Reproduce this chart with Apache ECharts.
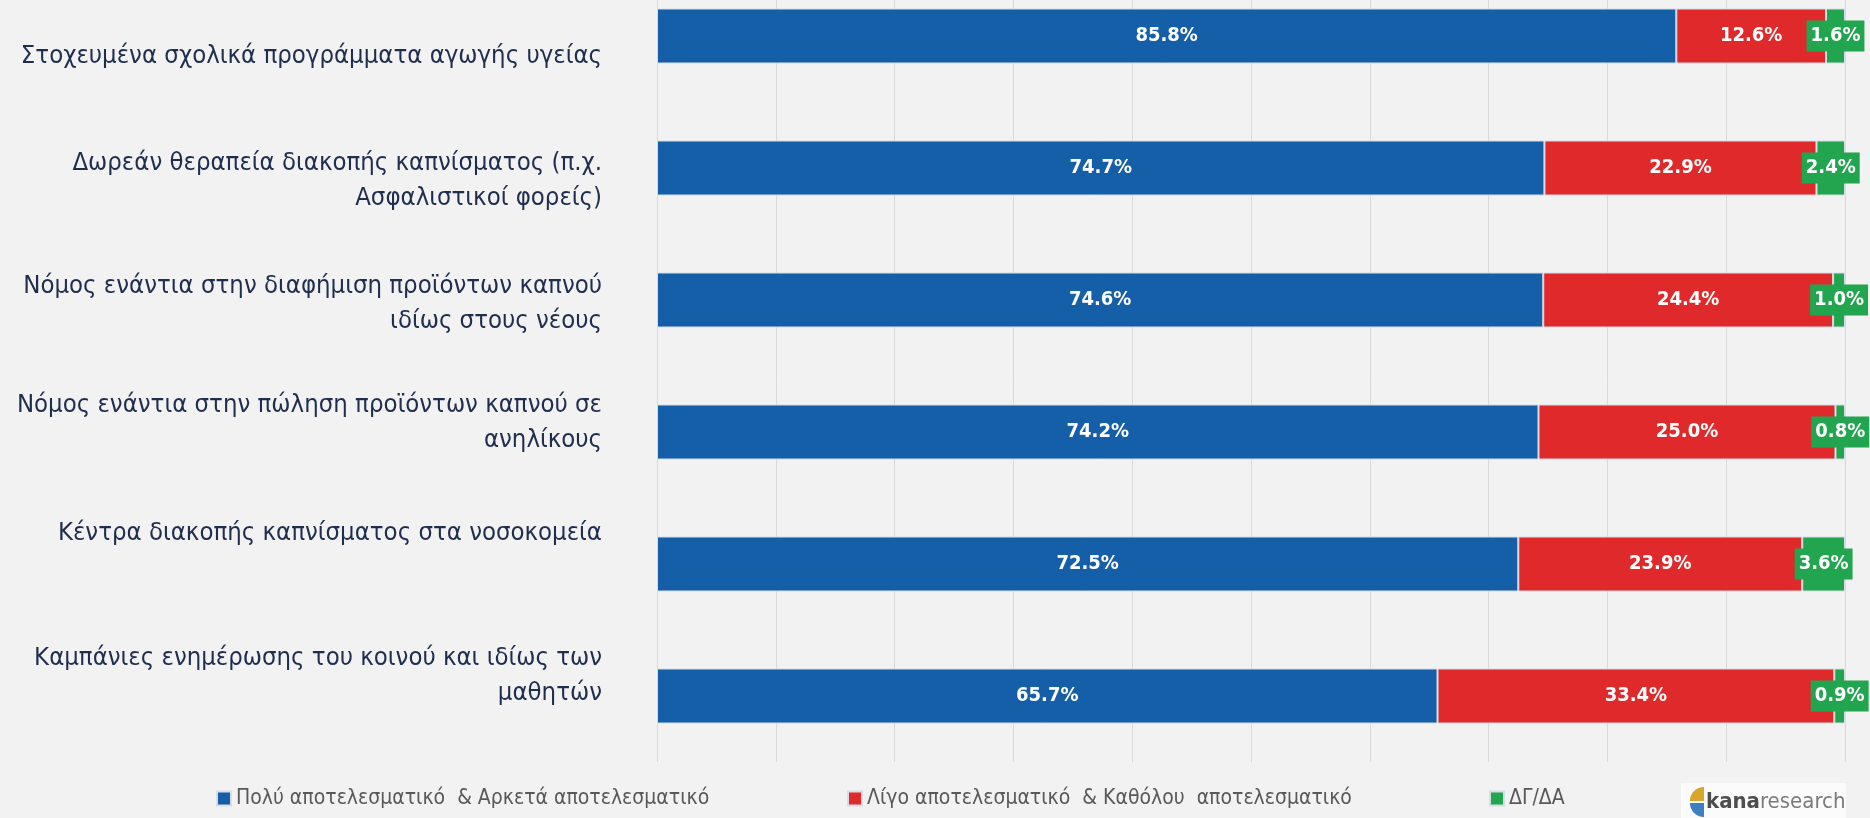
<!DOCTYPE html>
<html>
<head>
<meta charset="utf-8">
<script src="https://cdn.jsdelivr.net/npm/echarts@6/dist/echarts.min.js"></script>
<style>
  html, body { margin: 0; padding: 0; background: #f2f2f2; }
  #chart { width: 1870px; height: 818px; }
</style>
</head>
<body>
<div id="chart"></div>
<script>
const categories = [
  'Στοχευμένα σχολικά προγράμματα αγωγής υγείας',
  'Δωρεάν θεραπεία διακοπής καπνίσματος (π.χ.\nΑσφαλιστικοί φορείς)',
  'Νόμος ενάντια στην διαφήμιση προϊόντων καπνού\nιδίως στους νέους',
  'Νόμος ενάντια στην πώληση προϊόντων καπνού σε\nανηλίκους',
  'Κέντρα διακοπής καπνίσματος στα νοσοκομεία',
  'Καμπάνιες ενημέρωσης του κοινού και ιδίως των\nμαθητών'
];
const seriesNames = [
  'Πολύ αποτελεσματικό  & Αρκετά αποτελεσματικό',
  'Λίγο αποτελεσματικό  & Καθόλου  αποτελεσματικό',
  'ΔΓ/ΔΑ'
];
const effective = [85.8, 74.7, 74.6, 74.2, 72.5, 65.7];
const notEffective = [12.6, 22.9, 24.4, 25.0, 23.9, 33.4];
const noAnswer = [1.6, 2.4, 1.0, 0.8, 3.6, 0.9];

const font = '"DejaVu Sans Condensed", "Liberation Sans Narrow", sans-serif';
const colors = ['#155ea8', '#e0292a', '#22a54f'];
// the original labels sit a bit off their bars (px, + is down)
const labelShift = [20, 13, 4, -9, -31, -20];

const chart = echarts.init(document.getElementById('chart'));

// spacer lines of rich text move each label block up or down
const labelRich = {
  t: { fontFamily: font, fontSize: 25.5, lineHeight: 35, color: '#1f2d4f', align: 'right' }
};
labelShift.forEach((s, i) => {
  labelRich['g' + i] = { fontSize: 1, lineHeight: Math.max(1, Math.abs(2 * s)) };
});

function catLabel(value, index) {
  const lines = value.split('\n').map(l => '{t|' + l + '}');
  const s = labelShift[index];
  if (s > 0) lines.unshift('{g' + index + '| }');
  if (s < 0) lines.push('{g' + index + '| }');
  return lines.join('\n');
}

function pct(p) {
  return p.value.toFixed(1) + '%';
}

const valueLabel = {
  show: true,
  position: 'inside',
  color: '#fff',
  fontFamily: font,
  fontWeight: 'bold',
  fontSize: 20,
  formatter: pct
};

const legendBase = {
  bottom: 4,
  itemWidth: 14,
  itemHeight: 14,
  itemGap: 6,
  icon: 'rect',
  textStyle: { color: '#595959', fontFamily: font, fontSize: 21 }
};

const option = {
  backgroundColor: '#f2f2f2',
  animation: false,
  grid: { left: 657, right: 25, top: -30, bottom: 56, outerBoundsMode: 'none', containLabel: false },
  legend: [
    Object.assign({}, legendBase, { left: 211, data: [seriesNames[0]] }),
    Object.assign({}, legendBase, { left: 842, data: [seriesNames[1]] }),
    Object.assign({}, legendBase, { left: 1484, data: [seriesNames[2]] })
  ],
  xAxis: {
    type: 'value',
    min: 0,
    max: 100,
    interval: 10,
    axisLabel: { show: false },
    axisLine: { show: false },
    axisTick: { show: false },
    splitLine: { lineStyle: { color: '#d9d9d9', width: 1 } }
  },
  yAxis: {
    type: 'category',
    inverse: true,
    data: categories,
    axisLine: { show: false },
    axisTick: { show: false },
    axisLabel: {
      margin: 55,
      align: 'right',
      color: '#1f2d4f',
      fontFamily: font,
      fontSize: 25.5,
      formatter: catLabel,
      rich: labelRich
    }
  },
  series: [
    {
      name: seriesNames[0], type: 'bar', stack: 'all', data: effective, barWidth: 55,
      itemStyle: { color: colors[0], borderColor: '#d6dde6', borderWidth: 1 },
      label: valueLabel
    },
    {
      name: seriesNames[1], type: 'bar', stack: 'all', data: notEffective, barWidth: 55,
      itemStyle: { color: colors[1], borderColor: '#d6dde6', borderWidth: 1 },
      label: valueLabel
    },
    {
      name: seriesNames[2], type: 'bar', stack: 'all', data: noAnswer, barWidth: 55,
      itemStyle: { color: colors[2], borderColor: '#d6dde6', borderWidth: 1 },
      label: Object.assign({}, valueLabel, { backgroundColor: colors[2], padding: [6, 4, 5, 4] })
    }
  ],
  graphic: [
    {
      type: 'group',
      left: 1681,
      top: 783,
      children: [
        { type: 'rect', shape: { x: 0, y: 0, width: 165, height: 35 }, style: { fill: '#fbfbfb' } },
        { type: 'sector', shape: { cx: 23, cy: 18, r: 14, startAngle: Math.PI, endAngle: Math.PI * 1.5 }, style: { fill: '#d9a52a' } },
        { type: 'sector', shape: { cx: 23, cy: 20, r: 14, startAngle: Math.PI * 0.5, endAngle: Math.PI }, style: { fill: '#3d7fc1' } },
        {
          type: 'text', x: 25, y: 19,
          style: {
            text: '{b|kana}{n|research}',
            verticalAlign: 'middle',
            rich: {
              b: { fontFamily: font, fontWeight: 'bold', fontSize: 22, fill: '#4d4d4d' },
              n: { fontFamily: font, fontSize: 22, fill: '#7a7a7a' }
            }
          }
        }
      ]
    }
  ]
};

chart.setOption(option);
</script>
</body>
</html>
